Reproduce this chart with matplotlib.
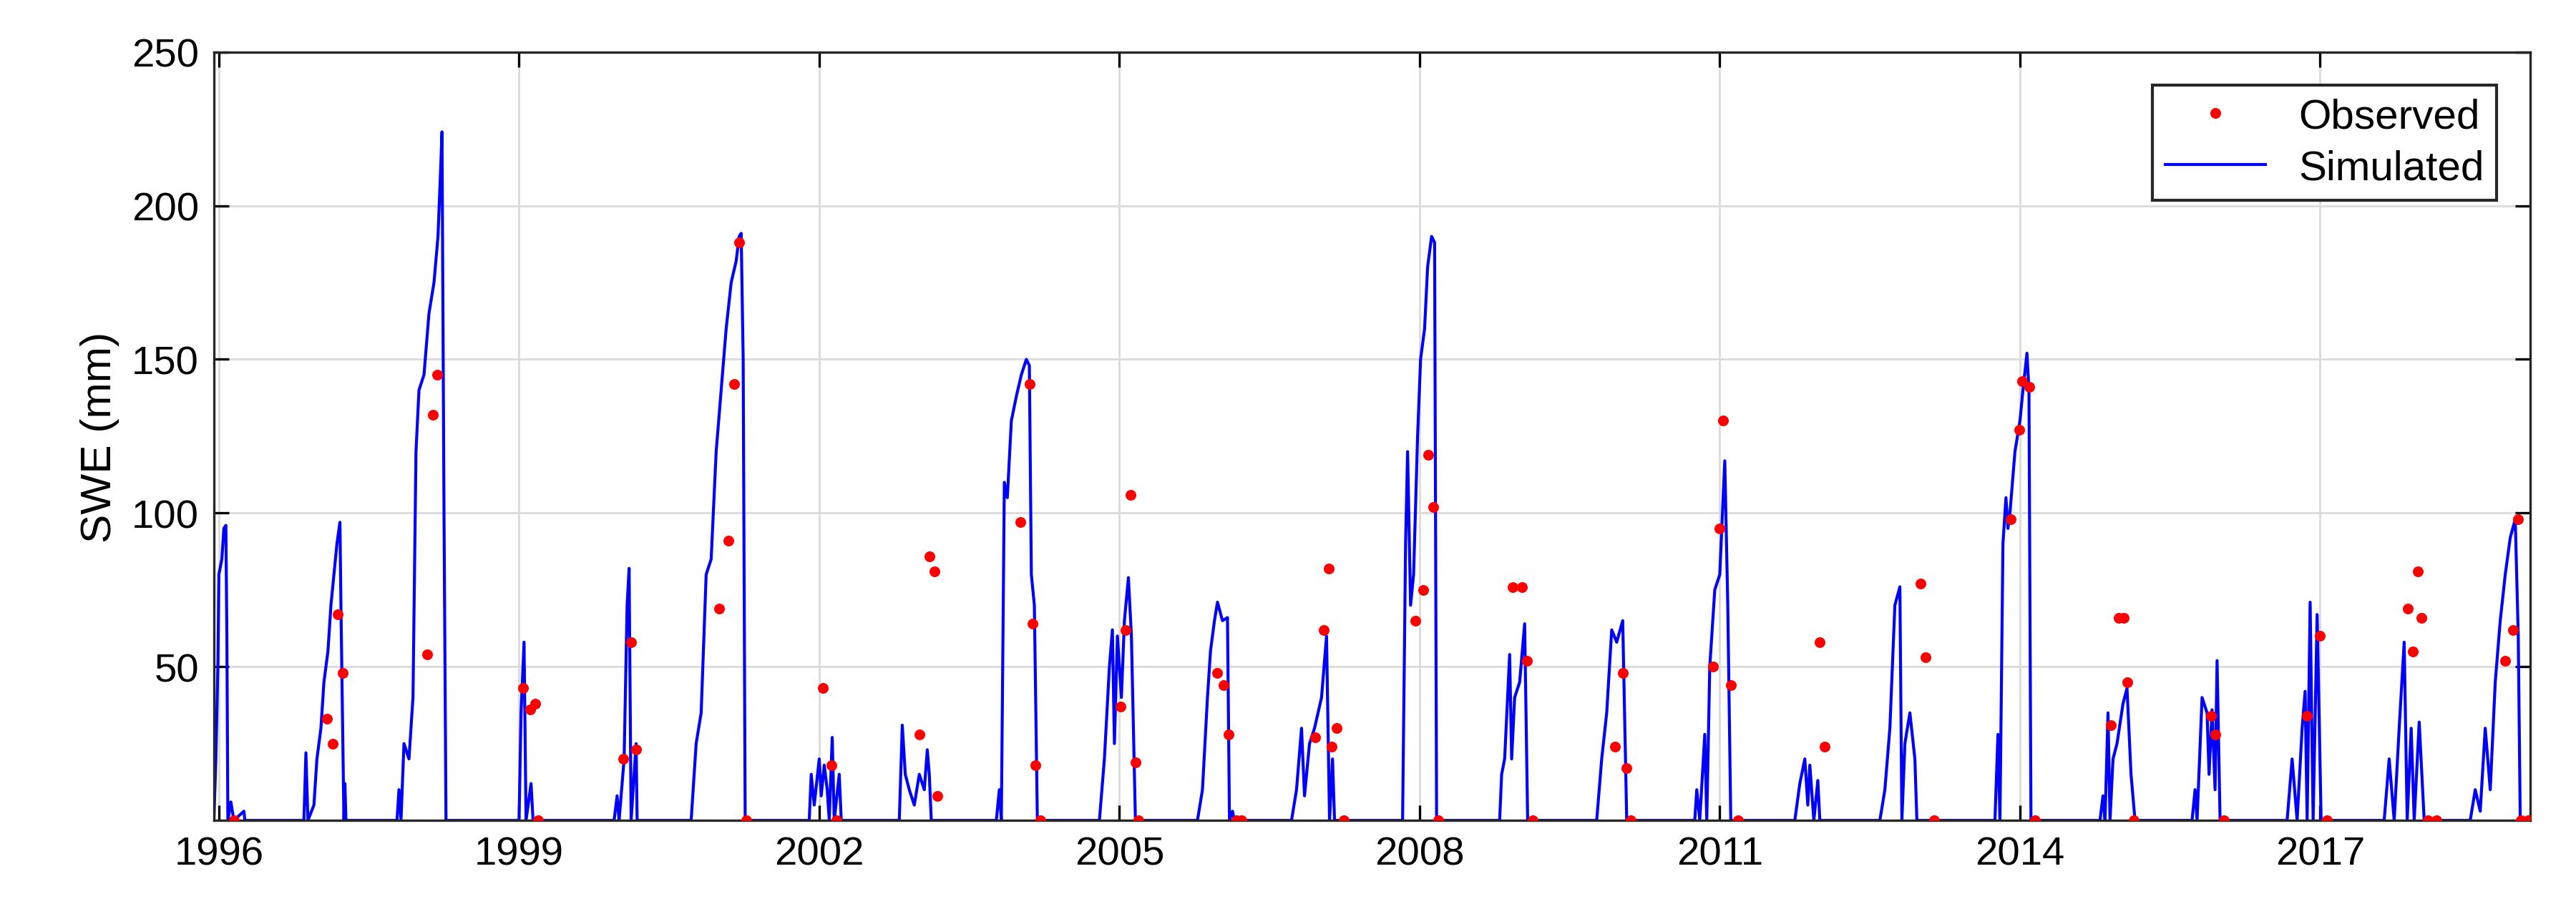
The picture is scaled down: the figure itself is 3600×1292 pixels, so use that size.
import matplotlib
matplotlib.use("Agg")
import matplotlib.pyplot as plt
import numpy as np

plt.rcParams['font.family'] = ['Liberation Sans', 'DejaVu Sans']

# Simulated SWE: (decimal year, mm), season by season
sim_t = [
 1995.95,1995.97,1995.99,1996.0,1996.03,1996.05,1996.07,1996.08,1996.09,1996.12,1996.15,1996.25,1996.26,
 1996.85,1996.87,1996.89,1996.95,1996.98,1997.02,1997.05,1997.09,1997.12,1997.15,1997.18,1997.21,1997.22,1997.25,1997.26,1997.27,
 1997.78,1997.8,1997.82,1997.85,1997.9,1997.94,1997.97,1998.0,1998.05,1998.1,1998.15,1998.19,1998.22,1998.23,1998.25,1998.27,
 1998.95,1999.0,1999.02,1999.05,1999.07,1999.12,1999.14,
 1999.95,1999.98,2000.0,2000.05,2000.08,2000.1,2000.11,2000.12,2000.17,2000.18,
 2000.72,2000.77,2000.82,2000.87,2000.92,2000.97,2001.02,2001.07,2001.12,2001.17,2001.2,2001.22,2001.24,2001.26,
 2001.9,2001.92,2001.95,2002.0,2002.02,2002.05,2002.08,2002.1,2002.13,2002.15,2002.2,2002.22,
 2002.8,2002.83,2002.86,2002.9,2002.95,2003.0,2003.05,2003.08,2003.1,2003.12,
 2003.77,2003.8,2003.82,2003.85,2003.88,2003.92,2003.97,2004.02,2004.07,2004.1,2004.12,2004.15,2004.18,
 2004.8,2004.85,2004.9,2004.93,2004.95,2004.98,2005.02,2005.05,2005.09,2005.12,2005.16,
 2005.78,2005.83,2005.88,2005.91,2005.95,2005.98,2006.03,2006.08,2006.1,2006.13,2006.15,
 2006.72,2006.77,2006.82,2006.85,2006.9,2006.95,2007.02,2007.07,2007.1,2007.13,2007.15,
 2007.83,2007.86,2007.88,2007.91,2007.94,2007.98,2008.01,2008.05,2008.08,2008.12,2008.15,2008.17,
 2008.8,2008.82,2008.85,2008.9,2008.92,2008.95,2009.0,2009.05,2009.08,
 2009.77,2009.82,2009.87,2009.92,2009.97,2010.03,2010.07,
 2010.75,2010.77,2010.8,2010.85,2010.87,2010.9,2010.95,2011.0,2011.05,2011.08,2011.11,
 2011.75,2011.8,2011.85,2011.88,2011.9,2011.94,2011.98,2012.0,
 2012.6,2012.65,2012.7,2012.75,2012.8,2012.82,2012.85,2012.9,2012.95,2012.97,
 2013.75,2013.78,2013.8,2013.83,2013.86,2013.88,2013.9,2013.95,2014.0,2014.03,2014.07,2014.09,2014.11,
 2014.8,2014.83,2014.85,2014.88,2014.9,2014.93,2014.97,2015.03,2015.07,2015.11,2015.15,
 2015.72,2015.75,2015.77,2015.82,2015.87,2015.89,2015.92,2015.95,2015.97,2016.0,
 2016.67,2016.72,2016.77,2016.82,2016.85,2016.87,2016.9,2016.93,2016.97,2017.01,
 2017.64,2017.69,2017.74,2017.79,2017.84,2017.87,2017.91,2017.94,2017.99,2018.04,
 2018.5,2018.55,2018.6,2018.65,2018.7,2018.75,2018.8,2018.85,2018.9,2018.95,2018.98,2019.0,2019.1,
]
sim_v = [
 0,20,50,80,85,95,96,60,0,6,0,3,0,
 0,22,0,5,20,30,45,55,70,80,90,97,70,0,12,0,
 0,10,0,25,20,40,120,140,145,165,175,190,215,224,100,0,
 0,0,35,58,0,12,0,
 0,8,0,20,70,82,40,0,25,0,
 0,25,35,80,85,120,140,160,175,182,190,191,150,0,
 0,15,5,20,8,18,10,0,27,0,15,0,
 0,31,15,10,5,15,10,23,15,0,
 0,10,0,110,105,130,138,145,150,148,80,70,0,
 0,20,50,62,25,60,40,65,79,60,0,
 0,10,40,55,65,71,65,66,0,3,0,
 0,10,30,8,25,30,40,60,0,20,0,
 0,90,120,70,80,125,150,160,180,190,188,0,
 0,15,20,54,20,40,45,64,0,
 0,20,35,62,58,65,0,
 0,10,0,28,0,50,75,80,117,70,0,
 0,12,20,5,18,0,13,0,
 0,10,30,70,76,0,25,35,20,0,
 0,28,0,90,105,95,100,120,130,140,152,140,0,
 0,8,0,35,0,20,25,38,43,15,0,
 0,10,0,40,35,15,36,10,52,0,
 0,20,0,30,42,0,71,0,67,0,
 0,20,0,30,58,0,30,0,32,0,
 0,10,3,30,10,45,65,80,92,98,60,0,0,
]

obs_t = [1996.15,1997.08,1997.14,1997.19,1997.24,1998.08,1998.14,1998.18,1999.04,1999.11,1999.16,1999.19,
 2000.04,2000.12,2000.17,2001.0,2001.09,2001.15,2001.2,2001.27,2002.04,2002.12,2002.17,2003.0,2003.1,2003.15,2003.18,
 2004.01,2004.1,2004.13,2004.16,2004.21,2005.01,2005.06,2005.11,2005.16,2005.19,2005.98,2006.04,2006.09,2006.17,2006.22,
 2006.96,2007.04,2007.09,2007.12,2007.17,2007.24,2007.96,2008.04,2008.09,2008.14,2008.19,2008.93,2009.02,2009.07,2009.13,
 2009.95,2010.03,2010.07,2010.11,2010.93,2011.0,2011.03,2011.11,2011.18,2012.0,2012.05,2013.01,2013.06,2013.14,
 2013.91,2013.99,2014.02,2014.09,2014.15,2014.91,2014.99,2015.04,2015.07,2015.14,2015.91,2015.95,2016.04,
 2016.87,2017.0,2017.07,2017.88,2017.93,2017.98,2018.01,2018.08,2018.16,2018.85,2018.93,2018.98,2019.01,2019.08]
obs_v = [0,33,25,67,48,54,132,145,43,36,38,0,
 20,58,23,69,91,142,188,0,43,18,0,28,86,81,8,
 97,142,64,18,0,37,62,106,19,0,48,44,28,0,0,
 27,62,82,24,30,0,65,75,119,102,0,76,76,52,0,
 24,48,17,0,50,95,130,44,0,58,24,77,53,0,
 98,127,143,141,0,31,66,66,45,0,34,28,0,
 34,60,0,69,55,81,66,0,0,52,62,98,0,0]

xticks = [1996, 1999, 2002, 2005, 2008, 2011, 2014, 2017]
yticks = [50, 100, 150, 200, 250]

fig = plt.figure(figsize=(12.003, 4.31), dpi=300)
ax = fig.add_axes([0.083, 0.112, 0.899, 0.831])
ax.plot(sim_t, sim_v, color='#0000ff', lw=1.0, label='Simulated', zorder=2)
ax.plot(obs_t, obs_v, 'o', color='#ff0000', ms=3.6, label='Observed', zorder=3, mec='none')
ax.set_xlim(1995.95, 2019.1)
ax.set_ylim(0, 250)
ax.set_xticks(xticks)
ax.set_xticklabels([str(x) for x in xticks])
ax.set_yticks(yticks)
ax.grid(True, color='#dcdcdc', lw=0.7)
ax.set_axisbelow(True)
ax.tick_params(labelsize=13.5, direction='in', length=5, width=0.8, top=True, right=True, pad=5)
for s in ax.spines.values():
    s.set_linewidth(0.8)
    s.set_color('#262626')
ax.set_ylabel('SWE (mm)', fontsize=14.5)
h, l = ax.get_legend_handles_labels()
ax.legend(h[::-1], l[::-1], loc='upper right', fontsize=14, fancybox=False, edgecolor='#262626',
          framealpha=1, borderaxespad=0.8, handlelength=2.4, borderpad=0.3, labelspacing=0.3)
fig.savefig('out.png', dpi=300)
